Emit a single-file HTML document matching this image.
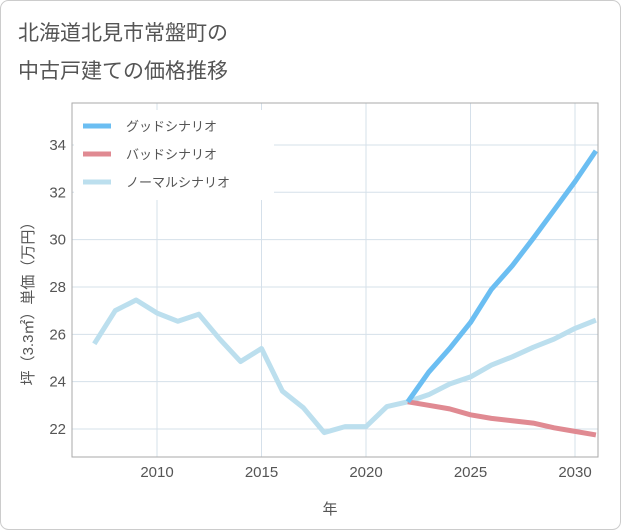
<!DOCTYPE html>
<html><head><meta charset="utf-8"><style>
body{margin:0;background:#fff;}
svg{display:block;font-family:"Liberation Sans","Noto Sans CJK JP",sans-serif;}
</style></head><body>
<svg width="621" height="530">
<rect x="0.5" y="0.5" width="620" height="529" rx="8" fill="#fff" stroke="#ccc"/>
<text x="18" y="40" font-size="21" fill="#555">北海道北見市常盤町の</text>
<text x="18" y="78" font-size="21" fill="#555">中古戸建ての価格推移</text>
<g id="grid"></g>
<g id="series"></g>
<rect x="72" y="103" width="526" height="354" fill="none" stroke="#aaa"/>
<g id="axes"></g>
<g>
<rect x="74" y="110" width="200" height="90" fill="#fff"/>
<g><line x1="83" y1="126" x2="111" y2="126" stroke="#6bbef2" stroke-width="5"/><text x="126" y="131" font-size="13" fill="#555">グッドシナリオ</text></g>
<g><line x1="83" y1="154" x2="111" y2="154" stroke="#e08a92" stroke-width="5"/><text x="126" y="159" font-size="13" fill="#555">バッドシナリオ</text></g>
<g><line x1="83" y1="182" x2="111" y2="182" stroke="#bcdfee" stroke-width="5"/><text x="126" y="187" font-size="13" fill="#555">ノーマルシナリオ</text></g>
</g>
<text x="330" y="514" font-size="15" fill="#555" text-anchor="middle">年</text>
<text transform="translate(33,300) rotate(-90)" font-size="15" fill="#555" text-anchor="middle">坪（3.3㎡）単価（万円）</text>
</svg>
<script>
const normalYears=[2007,2008,2009,2010,2011,2012,2013,2014,2015,2016,2017,2018,2019,2020,2021,2022,2023,2024,2025,2026,2027,2028,2029,2030,2031];
const normalValues=[25.6,27.0,27.45,26.9,26.55,26.85,25.8,24.85,25.4,23.6,22.9,21.85,22.1,22.1,22.95,23.15,23.45,23.9,24.2,24.7,25.05,25.45,25.8,26.25,26.6];
const forecastYears=[2022,2023,2024,2025,2026,2027,2028,2029,2030,2031];
const goodValues=[23.15,24.4,25.4,26.5,27.9,28.9,30.05,31.25,32.45,33.75];
const badValues=[23.15,23.0,22.85,22.6,22.45,22.35,22.25,22.05,21.9,21.75];
const xTicks=[2010,2015,2020,2025,2030];
const yTicks=[22,24,26,28,30,32,34];
const NS='http://www.w3.org/2000/svg';
const X=y=>157+(y-2010)*20.9;
const Y=v=>429-(v-22)*23.67;
const grid=document.getElementById('grid'),axes=document.getElementById('axes'),ser=document.getElementById('series');
function mk(t,a,p){const e=document.createElementNS(NS,t);for(const k in a)e.setAttribute(k,a[k]);p.appendChild(e);return e;}
xTicks.forEach(t=>{
const l=mk('line',{x1:X(t),x2:X(t),y1:103,y2:457,stroke:'#d5e0ea'},grid);


const tx=mk('text',{x:X(t),y:477,'font-size':15,fill:'#555','text-anchor':'middle'},axes);
tx.textContent=t;


});
yTicks.forEach(t=>{
const l=mk('line',{x1:72,x2:598,y1:Y(t),y2:Y(t),stroke:'#d5e0ea'},grid);


const tx=mk('text',{x:66,y:Y(t)+5,'font-size':15,fill:'#555','text-anchor':'end'},axes);
tx.textContent=t;


});
function line(xs,vs,c,name){
const p=mk('polyline',{points:xs.map((x,i)=>X(x)+','+Y(vs[i])).join(' '),fill:'none',stroke:c,'stroke-width':5,'stroke-linejoin':'round'},ser);


}
line(normalYears,normalValues,'#bcdfee','normal-scenario-line');
line(forecastYears,badValues,'#e08a92','bad-scenario-line');
line(forecastYears,goodValues,'#6bbef2','good-scenario-line');
</script>
</body></html>
